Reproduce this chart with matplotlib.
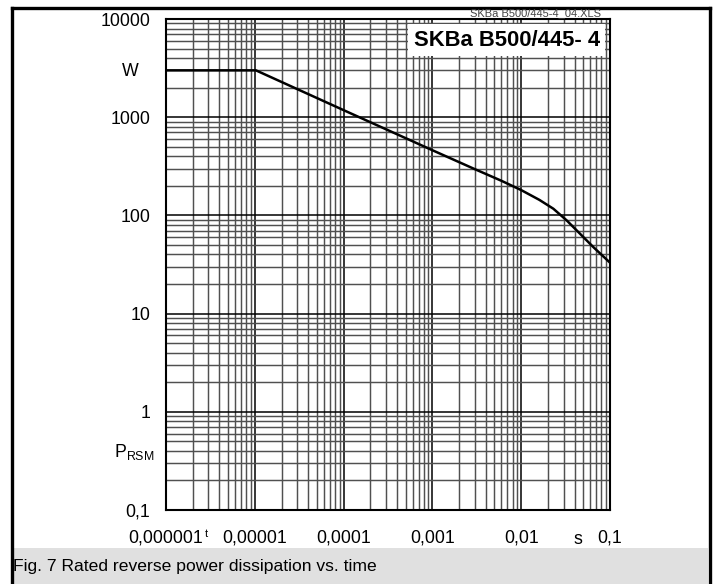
import matplotlib
matplotlib.use("Agg")
import matplotlib.pyplot as plt
from matplotlib.lines import Line2D
from matplotlib.patches import Rectangle

plt.rcParams['font.family'] = ['Liberation Sans', 'DejaVu Sans']
plt.rcParams['mathtext.default'] = 'regular'

# Data
t_s = [1e-6, 1.03e-5, 1e-4, 1e-3, 2.9e-3, 6e-3, 1e-2, 1.6e-2, 2.3e-2, 3.25e-2, 4.6e-2, 6.5e-2, 1e-1]
p_w = [3000, 3000, 1180, 461, 300, 225, 181, 144, 117, 89, 65, 47.5, 33]

x_ticks = [1e-6, 1e-5, 1e-4, 1e-3, 1e-2, 1e-1]
x_labels = ["0,000001", "0,00001", "0,0001", "0,001", "0,01", "0,1"]
y_ticks = [0.1, 1, 10, 100, 1000, 10000]
y_labels = ["0,1", "1", "10", "100", "1000", "10000"]

title = "SKBa B500/445- 4"
file_tag = "SKBa B500/445-4_04.XLS"
caption = "Fig. 7 Rated reverse power dissipation vs. time"

W, H = 717, 584
fig = plt.figure(figsize=(W / 100, H / 100), dpi=100)

def fx(px):
    return px / W

def fy(py):
    return 1 - py / H

# caption background
fig.patches.append(Rectangle((fx(13), fy(584)), fx(708) - fx(13), fy(548) - fy(584),
                             transform=fig.transFigure, facecolor='#e0e0e0',
                             edgecolor='none', zorder=0))
# outer frame
for xs, ys in [([11.5, 11.5], [8, 584]), ([11.5, 710], [8, 8]), ([710, 710], [8, 584])]:
    fig.lines.append(Line2D([fx(v) for v in xs], [fy(v) for v in ys],
                            transform=fig.transFigure, color='black', lw=2.4,
                            solid_capstyle='projecting'))

ax = fig.add_axes([fx(166), fy(510), fx(610) - fx(166), fy(19) - fy(510)])
ax.set_xscale('log')
ax.set_yscale('log')
ax.set_xlim(1e-6, 1e-1)
ax.set_ylim(0.1, 10000)

ax.grid(True, which='major', color='black', lw=1.1)
ax.grid(True, which='minor', color='#505050', lw=1.05)
ax.set_axisbelow(True)
for s in ax.spines.values():
    s.set_linewidth(1.5)
    s.set_color('black')

ax.plot(t_s, p_w, color='black', lw=1.8, solid_capstyle='butt', zorder=3)

ax.set_xticks(x_ticks)
ax.set_xticklabels(x_labels)
ax.set_yticks(y_ticks)
ax.set_yticklabels(y_labels)
ax.xaxis.set_minor_formatter(matplotlib.ticker.NullFormatter())
ax.yaxis.set_minor_formatter(matplotlib.ticker.NullFormatter())
ax.tick_params(which='both', length=0)
ax.tick_params(axis='y', labelsize=12.8, pad=11.5)
ax.tick_params(axis='x', labelsize=12.8, pad=14.3)

fig.text(fx(206.5), fy(534), "t", fontsize=8, ha='center', va='center')
fig.text(fx(578), fy(539), "s", fontsize=12.8, ha='center', va='center')

# axis unit labels
fig.text(fx(130), fy(71), "W", fontsize=12.8, ha='center', va='center')
fig.text(fx(134), fy(452), r"P$_{RSM}$", fontsize=12.8, ha='center', va='center')

# title box
ax.text(0.977, 0.957, title, transform=ax.transAxes, fontsize=15.8, fontweight='bold',
        ha='right', va='center', zorder=5,
        bbox=dict(facecolor='white', edgecolor='none', pad=4))
fig.text(fx(535), fy(13), file_tag, fontsize=8, ha='center', va='center', color='#444444')

fig.text(fx(13), fy(566), caption, fontsize=12.6, ha='left', va='center')

fig.savefig("out.png", dpi=100)
